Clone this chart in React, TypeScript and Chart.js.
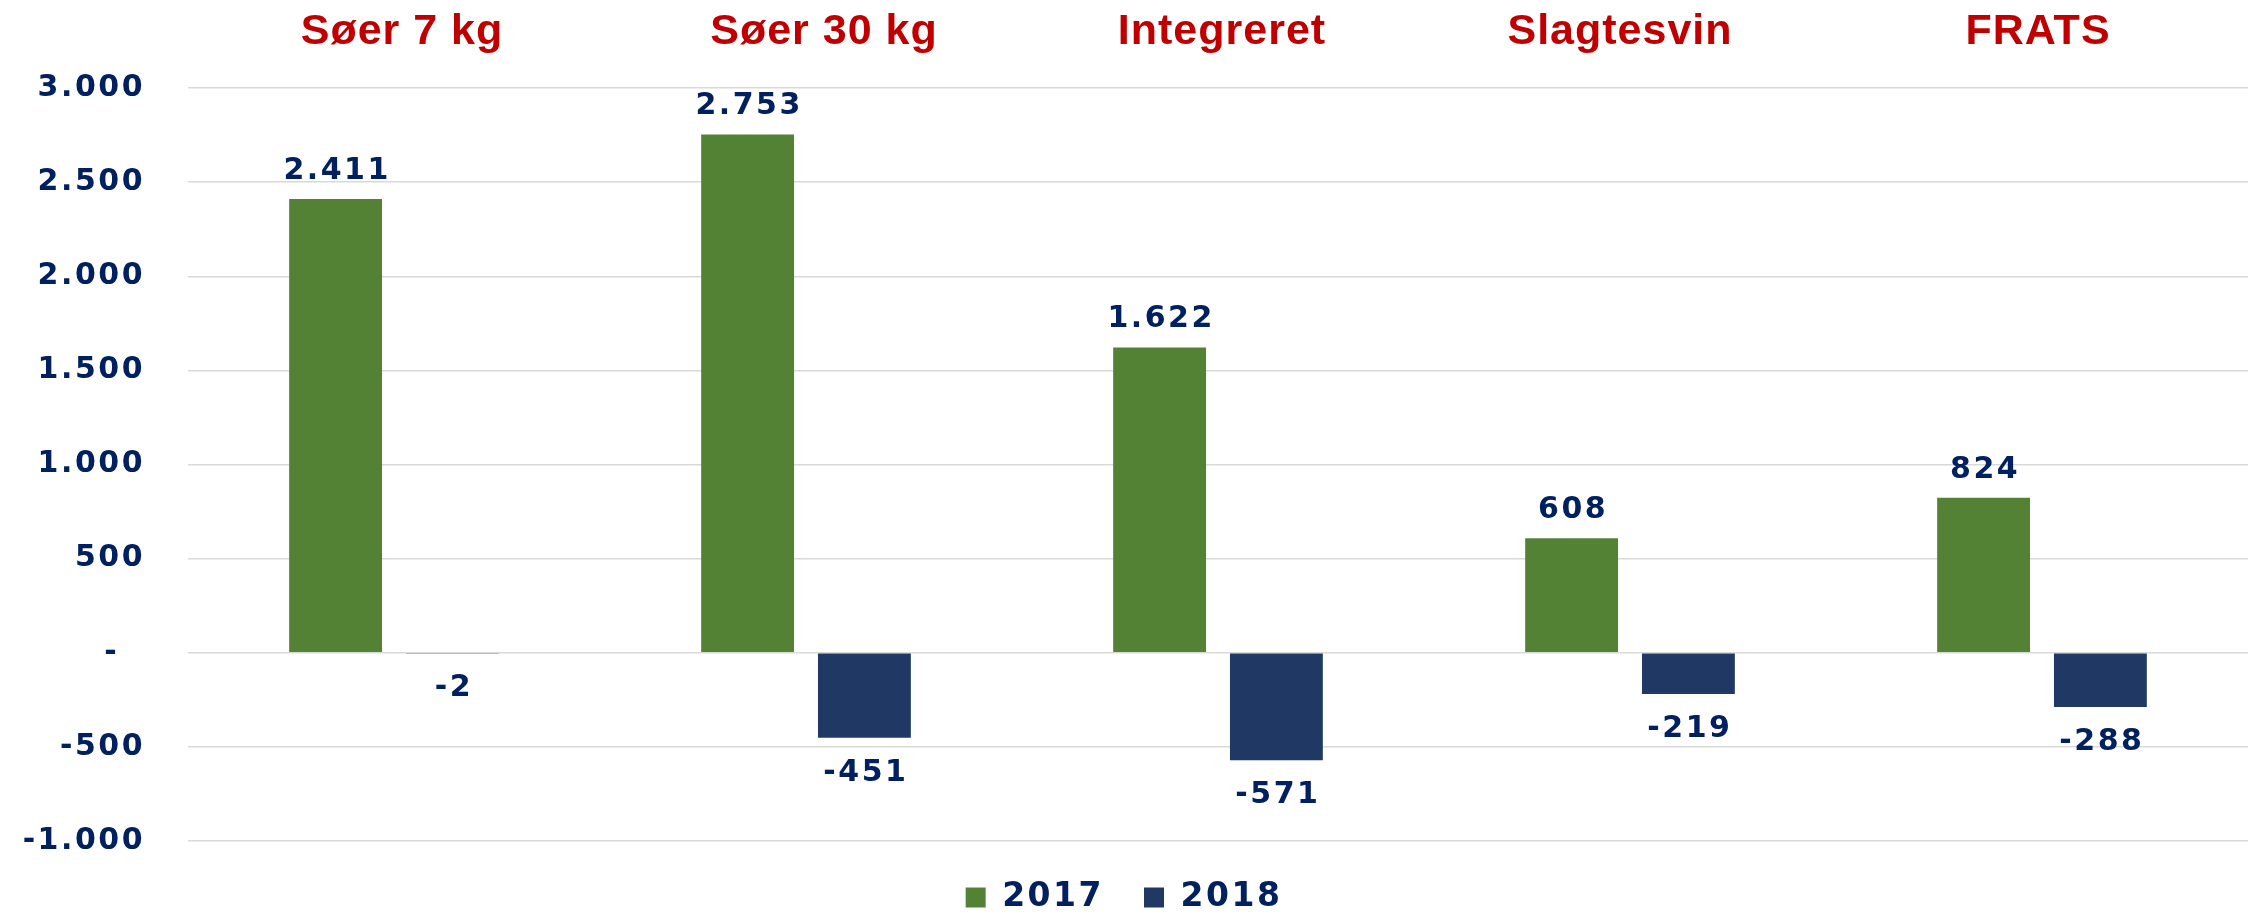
import React, { useEffect, useRef } from "react";
import { Chart, registerables } from "chart.js";

Chart.register(...registerables);

const categories = ["Søer 7 kg", "Søer 30 kg", "Integreret", "Slagtesvin", "FRATS"];
const seriesNames = ["2017", "2018"];
const values2017 = [2411, 2753, 1622, 608, 824];
const values2018 = [-2, -451, -571, -219, -288];
const yMin = -1000;
const yMax = 3000;
const yStep = 500;

const GREEN = "#548235";
const BLUE = "#203864";
const NAVY = "#002060";
const RED = "#C00000";
const NUM_FONT = "'DejaVu Sans', sans-serif";
const TITLE_FONT = "'Liberation Sans', Arial, sans-serif";

function fmt(v: number): string {
  if (v === 0) return "-";
  const s = Math.abs(Math.round(v))
    .toString()
    .replace(/\B(?=(\d{3})+(?!\d))/g, ".");
  return (v < 0 ? "-" : "") + s;
}

const spacingPlugin = {
  id: "spacing",
  beforeUpdate(chart: any) {
    chart.ctx.letterSpacing = "2.5px";
  },
  beforeLayout(chart: any) {
    chart.ctx.letterSpacing = "2.5px";
  },
  beforeDraw(chart: any) {
    chart.ctx.letterSpacing = "2.5px";
  },
};

// small horizontal nudges of the category headers (style only)
const headerNudge = [8, 18, 4, -10, -4];

const labelsPlugin = {
  id: "valueLabels",
  afterDatasetsDraw(chart: any) {
    const ctx = chart.ctx;
    ctx.save();
    ctx.font = `bold 30px ${NUM_FONT}`;
    ctx.fillStyle = NAVY;
    ctx.textAlign = "center";
    ctx.textBaseline = "alphabetic";
    ctx.letterSpacing = "2.5px";
    chart.data.datasets.forEach((ds: any, di: number) => {
      const meta = chart.getDatasetMeta(di);
      meta.data.forEach((el: any, i: number) => {
        const v = ds.data[i] as number;
        const x = el.x;
        const y = el.y;
        if (v >= 0) ctx.fillText(fmt(v), x + 1.5, y - 20);
        else ctx.fillText(fmt(v), x + 1.5, y + 43);
      });
    });
    ctx.font = `bold 43px ${TITLE_FONT}`;
    ctx.fillStyle = RED;
    ctx.letterSpacing = "1px";
    const xs = chart.scales.x;
    categories.forEach((c, i) => {
      ctx.fillText(c, xs.getPixelForValue(i) + headerNudge[i], 44);
    });
    ctx.restore();
  },
};

export default function App() {
  const ref = useRef<HTMLCanvasElement | null>(null);

  useEffect(() => {
    const canvas = ref.current;
    if (!canvas) return;
    const chart = new Chart(canvas, {
      type: "bar",
      data: {
        labels: categories,
        datasets: [
          {
            label: seriesNames[0],
            data: values2017,
            backgroundColor: GREEN,
            borderWidth: 0,
          },
          {
            label: seriesNames[1],
            data: values2018,
            backgroundColor: BLUE,
            borderWidth: 0,
          },
        ],
      },
      options: {
        responsive: false,
        maintainAspectRatio: false,
        animation: false,
        devicePixelRatio: 1,
        layout: { padding: { left: -21, right: -21, top: 88, bottom: -9 } },
        datasets: {
          bar: { categoryPercentage: 0.567, barPercentage: 0.795 },
        },
        scales: {
          x: { display: false },
          y: {
            min: yMin,
            max: yMax,
            ticks: {
              stepSize: yStep,
              callback: (v: any) => (Number(v) === 0 ? "-  " : fmt(Number(v))),
              color: NAVY,
              font: { family: NUM_FONT, weight: "bold", size: 30 },
              padding: 43,
            },
            grid: { color: "#d9d9d9", lineWidth: 1.5, drawTicks: false },
            border: { display: false },
            afterFit: (s: any) => {
              s.width = 209;
            },
          },
        },
        plugins: {
          legend: {
            position: "bottom",
            labels: {
              boxWidth: 20,
              boxHeight: 20,
              padding: 40,
              color: NAVY,
              font: { family: NUM_FONT, weight: "bold", size: 33 },
            },
          },
          tooltip: { enabled: false },
          title: { display: false },
        },
      },
      plugins: [spacingPlugin, labelsPlugin],
    } as any);
    return () => chart.destroy();
  }, []);

  return (
    <div
      style={{
        position: "fixed",
        left: 0,
        top: 0,
        width: 2248,
        height: 915,
        overflow: "hidden",
        background: "#ffffff",
      }}
    >
      <canvas ref={ref} width={2248} height={915} style={{ display: "block" }} />
    </div>
  );
}
